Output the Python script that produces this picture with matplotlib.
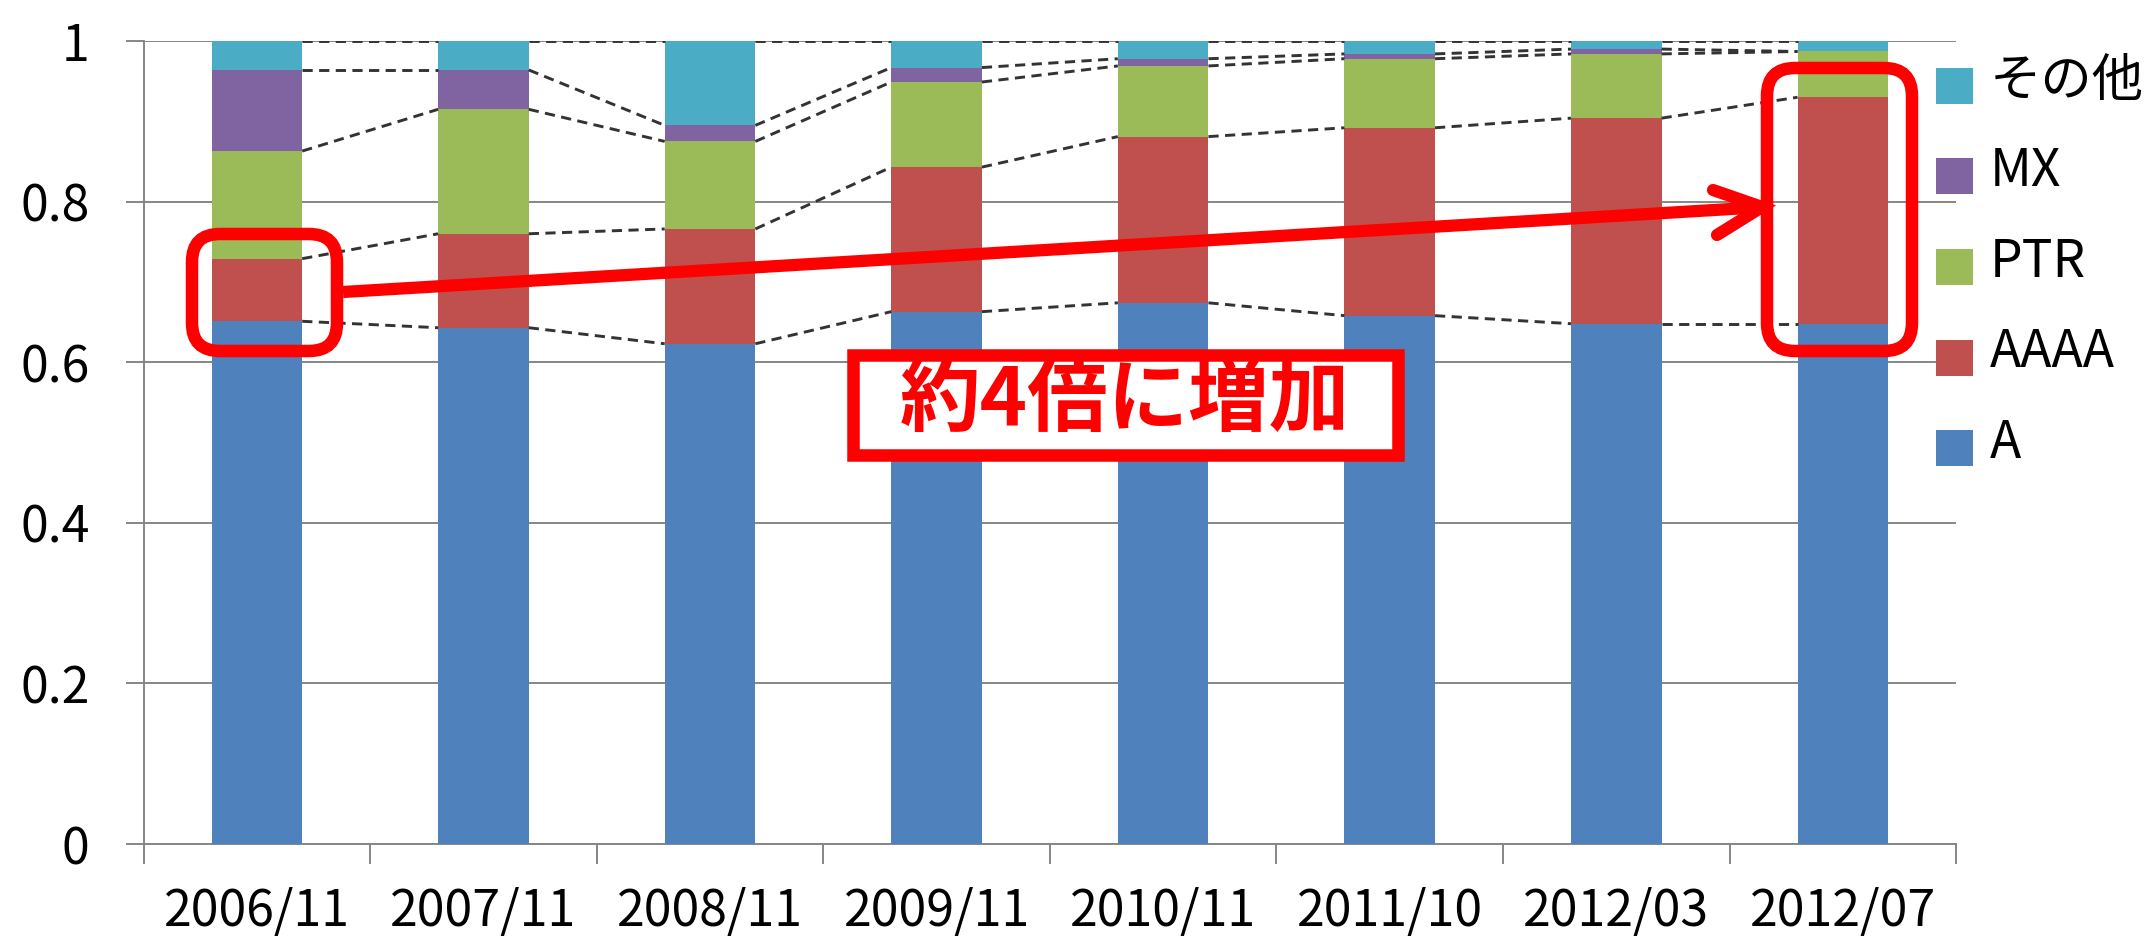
import matplotlib
matplotlib.use('Agg')
import matplotlib.pyplot as plt
import numpy as np
from matplotlib.patches import FancyBboxPatch, Rectangle

plt.rcParams['font.family'] = ['Noto Sans CJK JP', 'DejaVu Sans']

# データ（グラフから読み取った構成比）
dates = ['2006/11', '2007/11', '2008/11', '2009/11',
         '2010/11', '2011/10', '2012/03', '2012/07']
share_a = [0.651, 0.643, 0.623, 0.663, 0.674, 0.658, 0.648, 0.648]
share_aaaa = [0.078, 0.117, 0.143, 0.180, 0.207, 0.234, 0.256, 0.282]
share_ptr = [0.134, 0.155, 0.109, 0.106, 0.088, 0.086, 0.080, 0.057]
share_mx = [0.101, 0.049, 0.020, 0.018, 0.009, 0.006, 0.006, 0.000]
share_other = [0.036, 0.036, 0.105, 0.033, 0.022, 0.016, 0.010, 0.013]

series_names = ['A', 'AAAA', 'PTR', 'MX', 'その他']
series_colors = ['#4F81BD', '#C0504D', '#9BBB59', '#8064A2', '#4BACC6']
yticks = [0, 0.2, 0.4, 0.6, 0.8, 1.0]
ytick_labels = ['0', '0.2', '0.4', '0.6', '0.8', '1']
note = '約4倍に増加'

W, H = 2145, 946
fig = plt.figure(figsize=(W / 100, H / 100), dpi=100)
ax = fig.add_axes([0.06695, 0.1078, 0.8450, 0.8488])

x = np.arange(len(dates))
bar_w = 0.4
series = [share_a, share_aaaa, share_ptr, share_mx, share_other]
bottom = np.zeros(len(dates))
tops = []
for vals, color in zip(series, series_colors):
    vals = np.array(vals)
    ax.bar(x, vals, bar_w, bottom=bottom, color=color, zorder=3, linewidth=0)
    bottom = bottom + vals
    tops.append(bottom.copy())

# 系列線（破線）
for top in tops:
    for i in range(len(dates) - 1):
        ax.plot([x[i] + bar_w / 2, x[i + 1] - bar_w / 2], [top[i], top[i + 1]],
                color='#333333', lw=2.1, ls=(0, (3.5, 2.2)), zorder=4)

ax.set_xlim(-0.5, len(dates) - 0.5)
ax.set_ylim(0, 1)
ax.set_yticks(yticks)
ax.set_yticklabels(ytick_labels, fontsize=36)
ax.set_xticks(x)
ax.set_xticklabels(dates, fontsize=36)
ax.set_xticks(np.arange(-0.5, len(dates)), minor=True)
ax.tick_params(axis='x', which='major', length=0, pad=30)
ax.tick_params(axis='x', which='minor', length=14.4, width=1.4, color='#868686')
ax.tick_params(axis='y', length=13, width=1.4, color='#868686', pad=26)
ax.grid(axis='y', color='#868686', lw=1.4, zorder=0)
for s in ['top', 'right']:
    ax.spines[s].set_visible(False)
for s in ['left', 'bottom']:
    ax.spines[s].set_color('#868686')
    ax.spines[s].set_linewidth(1.4)

# 注釈用のオーバーレイ（ピクセル座標）
ov = fig.add_axes([0, 0, 1, 1], zorder=5)
ov.set_xlim(0, W)
ov.set_ylim(H, 0)
ov.axis('off')
ov.patch.set_alpha(0)

red = '#FF0000'
ov.add_patch(FancyBboxPatch((192, 234), 145, 117, boxstyle='round,pad=0,rounding_size=28',
                            fc='none', ec=red, lw=9))
ov.add_patch(FancyBboxPatch((1767, 68), 145, 283, boxstyle='round,pad=0,rounding_size=28',
                            fc='none', ec=red, lw=9))
ov.plot([343, 1756], [292, 207.5], color=red, lw=8.8, solid_capstyle='butt')
ov.plot([1713, 1762, 1717], [190, 207, 235], color=red, lw=8.8,
        solid_capstyle='round', solid_joinstyle='miter')
ov.add_patch(FancyBboxPatch((853, 355), 545, 100, boxstyle='square,pad=0',
                            fc='white', ec=red, lw=9))
ov.text(1125, 401, note, color=red, fontsize=58, fontweight='bold',
        ha='center', va='center')

# 凡例
for i, (name, color) in enumerate(zip(series_names[::-1], series_colors[::-1])):
    cy = 86 + i * 90.5
    ov.add_patch(Rectangle((1936, cy - 18), 37, 36, fc=color, ec='none'))
    ov.text(1990, cy - 5, name, fontsize=37, va='center', ha='left')

fig.savefig('out.png', dpi=100)
